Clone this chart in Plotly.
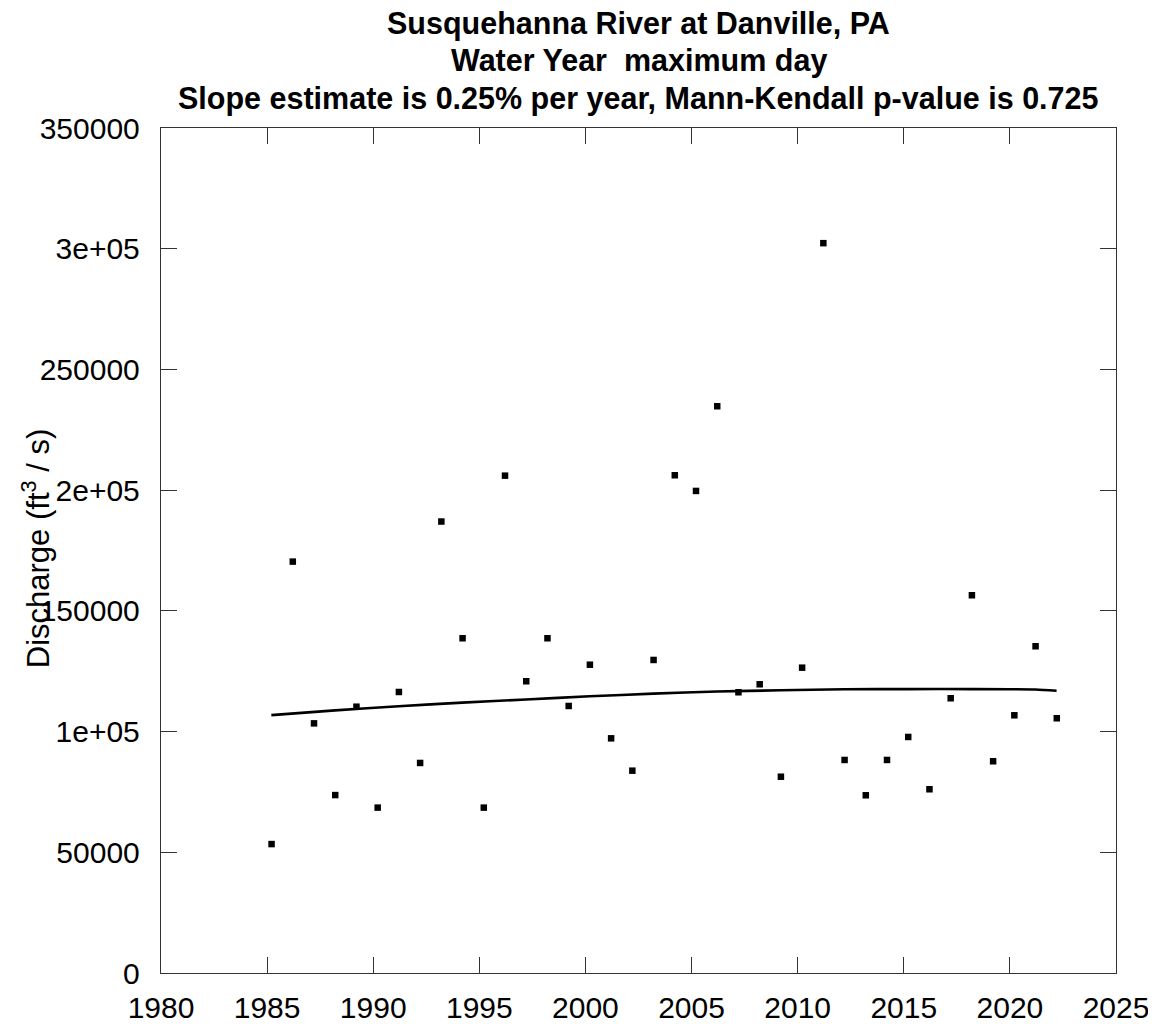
import plotly.graph_objects as go

# Water years and annual maximum daily discharge (ft3/s)
years = list(range(1985, 2023))
max_day_q = [53400, 170400, 103400, 73700, 110300, 68500, 116400, 87000, 187000, 138650,
             68500, 206000, 120840, 138650, 110600, 127700, 97200, 83800, 129660, 206170,
             199670, 234750, 116280, 119590, 81300, 126470, 302300, 88240, 73610, 88240,
             97760, 76100, 113800, 156460, 87700, 106750, 135330, 105510]
date_offset = 0.21  # position of points within the water year

# Smoothed trend curve
trend_years = [1985.2, 1988.2, 1991.2, 1994.2, 1997.2, 2000.2, 2003.2, 2006.2,
               2009.2, 2012.2, 2015.2, 2018.2, 2021.2, 2022.2]
trend_q = [106800, 108800, 110500, 112000, 113300, 114600, 115700, 116600,
           117100, 117500, 117600, 117600, 117400, 116900]

x_ticks = [1980, 1985, 1990, 1995, 2000, 2005, 2010, 2015, 2020, 2025]
y_ticks = [0, 50000, 100000, 150000, 200000, 250000, 300000, 350000]
y_tick_labels = ["0", "50000", "1e+05", "150000", "2e+05", "250000", "3e+05", "350000"]

title_lines = ["Susquehanna River at Danville, PA",
               "Water Year  maximum day",
               "Slope estimate is 0.25% per year, Mann-Kendall p-value is 0.725"]
title_line_y = [1.1231, 1.0793, 1.0355]
y_title = "Discharge (ft<sup>3</sup> / s)"

FONT = "Liberation Sans, Arial, sans-serif"

fig = go.Figure()
fig.add_trace(go.Scatter(
    x=[y + date_offset for y in years], y=max_day_q, mode="markers",
    marker=dict(symbol="square", size=6.5, color="black", line=dict(width=0)),
    showlegend=False, hoverinfo="x+y"))
fig.add_trace(go.Scatter(
    x=trend_years, y=trend_q, mode="lines",
    line=dict(color="black", width=2.6, shape="spline", smoothing=0.6),
    showlegend=False))

axis_common = dict(
    showgrid=False, zeroline=False, showline=True, linecolor="#333333", linewidth=1.4,
    mirror="ticks", ticks="inside", ticklen=16, tickwidth=1.4, tickcolor="#333333",
    tickfont=dict(family=FONT, size=30, color="black"))

fig.update_xaxes(range=[1980, 2025], tickvals=x_ticks,
                 ticktext=[str(t) for t in x_ticks], ticklabelstandoff=8, **axis_common)
fig.update_yaxes(range=[0, 350000], tickvals=y_ticks, ticktext=y_tick_labels,
                 ticklabelstandoff=14, **axis_common)

annotations = [dict(text="<b>%s</b>" % t, showarrow=False, xref="paper", yref="paper",
                    x=0.5, y=yy, xanchor="center", yanchor="middle",
                    font=dict(family=FONT, size=30.5, color="black"))
               for t, yy in zip(title_lines, title_line_y)]
annotations.append(dict(text=y_title, textangle=-90, showarrow=False,
                        xref="paper", yref="paper", x=-0.1315, y=0.502,
                        xanchor="center", yanchor="middle",
                        font=dict(family=FONT, size=31, color="black")))

fig.update_layout(
    width=1156, height=1024,
    margin=dict(l=153, r=48, t=120, b=59, autoexpand=False),
    paper_bgcolor="white", plot_bgcolor="white",
    font=dict(family=FONT, color="black"),
    annotations=annotations,
)

fig.write_html("out.html")
